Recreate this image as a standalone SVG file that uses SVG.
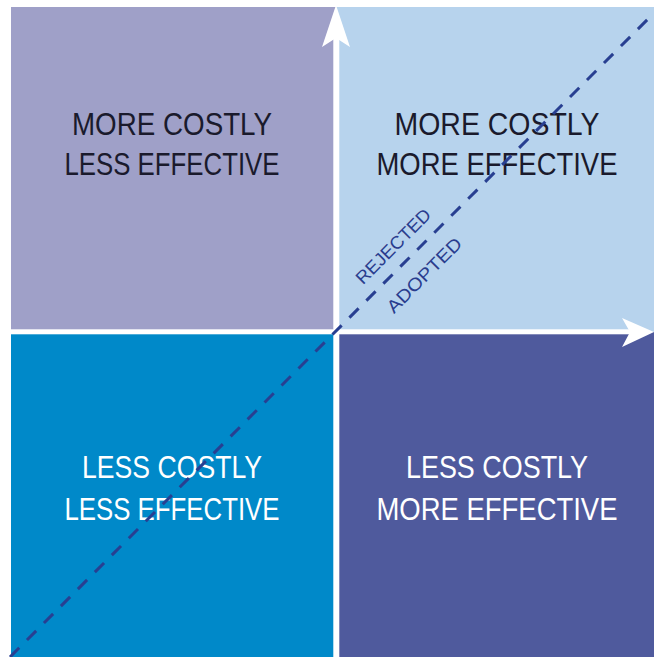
<svg xmlns="http://www.w3.org/2000/svg" width="654" height="657" viewBox="0 0 654 657">
<style>
.q { font-family: "Liberation Sans", Arial, sans-serif; font-size: 31px; text-anchor: middle; }
.dark { fill: #1a1a2c; }
.light { fill: #ffffff; }
.lab { font-family: "Liberation Sans", Arial, sans-serif; font-size: 18px; fill: #2a3d8e; text-anchor: middle; }
.axis { fill: #ffffff; }
</style>
<rect width="654" height="657" fill="#ffffff"/>
<g id="q-more-costly-less-effective">
<rect x="11" y="7" width="325" height="325" fill="#9fa0c8"/>
<text class="q dark" x="172" y="135" textLength="200" lengthAdjust="spacingAndGlyphs">MORE COSTLY</text>
<text class="q dark" x="172" y="175" textLength="215" lengthAdjust="spacingAndGlyphs">LESS EFFECTIVE</text>
</g>
<g id="q-more-costly-more-effective">
<rect x="336" y="7" width="318" height="325" fill="#b7d3ed"/>
<text class="q dark" x="497" y="135" textLength="205" lengthAdjust="spacingAndGlyphs">MORE COSTLY</text>
<text class="q dark" x="497" y="175" textLength="241" lengthAdjust="spacingAndGlyphs">MORE EFFECTIVE</text>
</g>
<g id="q-less-costly-less-effective">
<rect x="11" y="332" width="325" height="325" fill="#0089c9"/>
<text class="q light" x="172" y="478" textLength="180" lengthAdjust="spacingAndGlyphs">LESS COSTLY</text>
<text class="q light" x="172" y="520" textLength="215" lengthAdjust="spacingAndGlyphs">LESS EFFECTIVE</text>
</g>
<g id="q-less-costly-more-effective">
<rect x="336" y="332" width="318" height="325" fill="#4f5a9d"/>
<text class="q light" x="497" y="478" textLength="182" lengthAdjust="spacingAndGlyphs">LESS COSTLY</text>
<text class="q light" x="497" y="520" textLength="241" lengthAdjust="spacingAndGlyphs">MORE EFFECTIVE</text>
</g>
<g id="connectors">
<rect class="axis" x="333.3" y="38" width="6" height="619"/>
<polygon class="axis" points="336,5 350,47 336,38 322,47"/>
<rect class="axis" x="0" y="329.3" width="632" height="5"/>
<polygon class="axis" points="654,332 622,318 630,332 622,347"/>
<line x1="10" y1="657" x2="654" y2="13" stroke="#283f91" stroke-width="3" stroke-dasharray="13 11"/>
</g>
<g id="diagonal-labels">
<text class="lab" transform="translate(397.6,250.6) rotate(-45)" textLength="98" lengthAdjust="spacingAndGlyphs">REJECTED</text>
<text class="lab" transform="translate(428.6,279.6) rotate(-45)" textLength="98" lengthAdjust="spacingAndGlyphs">ADOPTED</text>
</g>
</svg>
